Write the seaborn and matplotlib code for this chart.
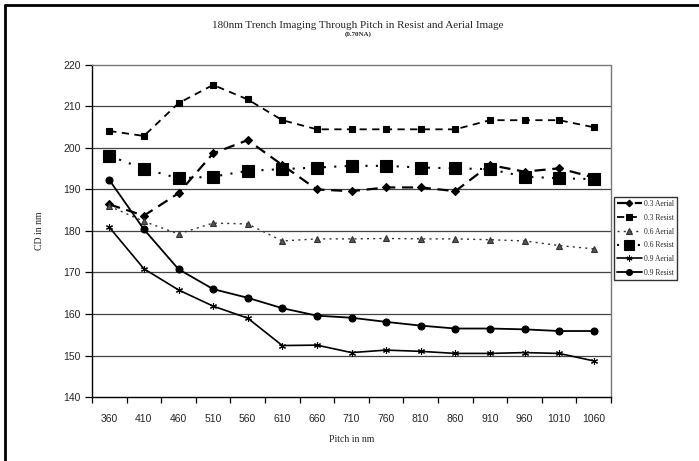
import numpy as np
import pandas as pd
import matplotlib
matplotlib.use("Agg")
import matplotlib.pyplot as plt
from matplotlib.lines import Line2D
import seaborn as sns

# pitch categories (nm)
pitch = ["360", "410", "460", "510", "560", "610", "660", "710",
         "760", "810", "860", "910", "960", "1010", "1060"]

# CD values in nm
aerial_03 = [186.4, 183.7, 189.1, 198.7, 201.9, 195.9, 190.0, 189.6,
             190.5, 190.5, 189.6, 195.9, 194.3, 195.1, 192.9]
resist_03 = [204.1, 202.9, 210.8, 215.2, 211.7, 206.7, 204.5, 204.5,
             204.5, 204.5, 204.5, 206.7, 206.7, 206.7, 205.0]
aerial_06 = [186.0, 182.3, 179.3, 181.9, 181.7, 177.6, 178.1, 178.1,
             178.2, 178.1, 178.1, 177.9, 177.6, 176.5, 175.7]
resist_06 = [198.1, 195.0, 192.7, 193.1, 194.5, 194.9, 195.3, 195.7,
             195.7, 195.3, 195.1, 194.9, 193.1, 192.7, 192.5]
aerial_09 = [180.9, 170.9, 165.8, 161.9, 159.0, 152.4, 152.5, 150.7,
             151.3, 151.0, 150.5, 150.5, 150.7, 150.5, 148.7]
resist_09 = [192.3, 180.4, 170.8, 166.0, 163.9, 161.4, 159.6, 159.1,
             158.1, 157.2, 156.5, 156.5, 156.3, 155.9, 155.9]

series = [
    ("0.3 Aerial", aerial_03),
    ("0.3 Resist", resist_03),
    ("0.6 Aerial", aerial_06),
    ("0.6 Resist", resist_06),
    ("0.9 Aerial", aerial_09),
    ("0.9 Resist", resist_09),
]

# line / marker look for each series
styles = {
    "0.3 Aerial": dict(color="black", lw=1.6, dashes=(5, 3), marker="D", ms=4,
                       mfc="black", mec="black"),
    "0.3 Resist": dict(color="black", lw=1.3, dashes=(4, 3), marker="s", ms=4.5,
                       mfc="black", mec="black"),
    "0.6 Aerial": dict(color="#333333", lw=1.0, dashes=(1.5, 3), marker="^", ms=5,
                       mfc="#555555", mec="#333333"),
    "0.6 Resist": dict(color="black", lw=1.5, dashes=(1, 4), marker="s", ms=8,
                       mfc="black", mec="black"),
    "0.9 Aerial": dict(color="black", lw=1.2, marker=(6, 2, 0), ms=5,
                       mfc="black", mec="black", mew=0.8),
    "0.9 Resist": dict(color="black", lw=1.3, marker="o", ms=5,
                       mfc="black", mec="black"),
}

sns.set_style("white")
serif = ["Liberation Serif", "DejaVu Serif"]
sans = ["Liberation Sans", "DejaVu Sans"]

fig = plt.figure(figsize=(6.99, 4.61), dpi=100)
ax = fig.add_axes([92 / 699, 1 - 397 / 461, (611 - 92) / 699, (397 - 65) / 461])

idx = np.arange(len(pitch))
handles = []
for name, vals in series:
    st = dict(styles[name])
    dashes = st.pop("dashes", None)
    df = pd.DataFrame({"x": idx, "y": vals})
    sns.lineplot(data=df, x="x", y="y", ax=ax, sort=False, estimator=None,
                 color=st["color"], linewidth=st["lw"], marker=st["marker"],
                 markersize=st["ms"], markerfacecolor=st["mfc"],
                 markeredgecolor=st["mec"], markeredgewidth=st.get("mew", 0.8),
                 zorder=3)
    ln = ax.lines[-1]
    if dashes is not None:
        ln.set_dashes(dashes)
    h = Line2D([], [], color=st["color"], lw=st["lw"], marker=st["marker"],
               ms=st["ms"] * 0.85, mfc=st["mfc"], mec=st["mec"],
               mew=st.get("mew", 0.8))
    if dashes is not None:
        h.set_dashes(dashes)
    handles.append(h)

ax.set_xlim(-0.5, len(pitch) - 0.5)
ax.set_ylim(140, 220)

ax.set_xticks(idx)
ax.set_xticklabels(pitch, fontsize=7.5, family=sans)
ax.set_xticks(np.arange(len(pitch) + 1) - 0.5, minor=True)
ax.tick_params(axis="x", which="major", length=0, pad=12)
ax.tick_params(axis="x", which="minor", length=4, width=0.9, direction="out",
               color="black", bottom=True)

ax.set_yticks(np.arange(140, 221, 10))
ax.set_yticklabels([str(v) for v in range(140, 221, 10)], fontsize=7.5, family=sans)
ax.tick_params(axis="y", length=5, width=0.9, direction="out", color="black",
               left=True, pad=3)

for v in range(150, 220, 10):
    ax.axhline(v, color="#444444", lw=0.9, zorder=1)

ax.spines["left"].set_color("black")
ax.spines["bottom"].set_color("black")
ax.spines["left"].set_linewidth(1.0)
ax.spines["bottom"].set_linewidth(1.0)
for s in ["top", "right"]:
    ax.spines[s].set_color("#777777")
    ax.spines[s].set_linestyle((0, (1, 1)))
    ax.spines[s].set_linewidth(1.0)

ax.set_xlabel("Pitch in nm", fontsize=7, family=serif, labelpad=8)
ax.set_ylabel("CD in nm", fontsize=7, family=serif, labelpad=14)

fig.text(358 / 699, 1 - 25 / 461, "180nm Trench Imaging Through Pitch in Resist and Aerial Image",
         ha="center", va="center", fontsize=8, family=serif)
fig.text(358 / 699, 1 - 34 / 461, "(0.70NA)", ha="center", va="center",
         fontsize=5, family=serif, weight="bold")

leg = fig.legend(handles, [n for n, _ in series], loc="upper left",
                 bbox_to_anchor=(614 / 699, 1 - 197 / 461), frameon=True,
                 fancybox=False, edgecolor="black", prop={"family": serif, "size": 5.5},
                 handlelength=3.2, handletextpad=0.3, borderpad=0.4,
                 labelspacing=0.75, borderaxespad=0)
leg.get_frame().set_linewidth(1.0)

# border of the chart frame (left and top edges)
fig.add_artist(Line2D([5 / 699, 5 / 699], [0, 1 - 5 / 461], color="black", lw=2,
                      transform=fig.transFigure))
fig.add_artist(Line2D([5 / 699, 1], [1 - 5 / 461, 1 - 5 / 461], color="black", lw=2,
                      transform=fig.transFigure))

fig.savefig("out.png", dpi=100)
